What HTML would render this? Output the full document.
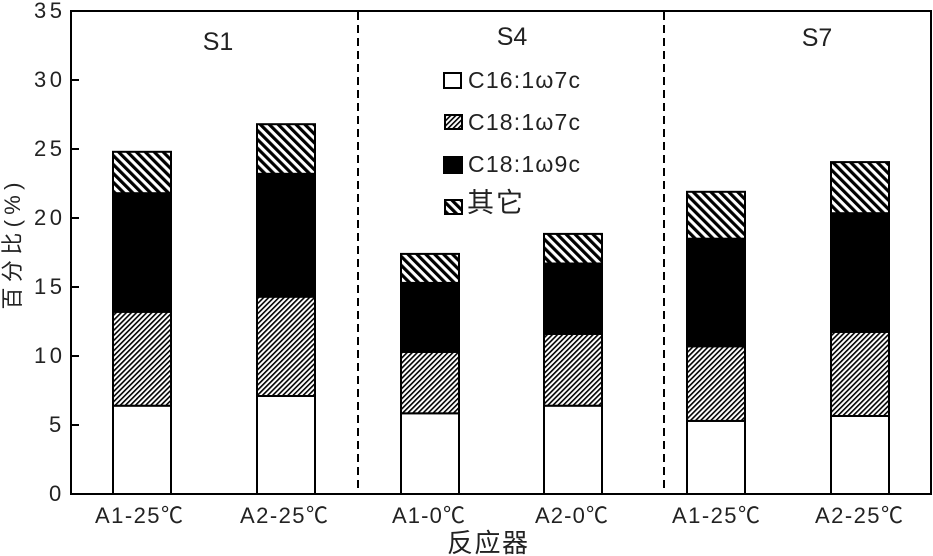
<!DOCTYPE html>
<html>
<head>
<meta charset="utf-8">
<style>
  html, body { margin: 0; padding: 0; background: #fff; }
  svg { display: block; }
  text { font-family: "Liberation Sans", "Noto Sans CJK SC", "WenQuanYi Zen Hei", sans-serif; fill: #222; }
</style>
</head>
<body>
<svg width="933" height="556" viewBox="0 0 933 556" xmlns="http://www.w3.org/2000/svg">
  <defs>
    <pattern id="fine" patternUnits="userSpaceOnUse" width="3.6" height="3.6" patternTransform="rotate(45)">
      <rect x="0" y="0" width="3.6" height="3.6" fill="#fff"/>
      <rect x="0" y="0" width="1.6" height="3.6" fill="#000"/>
    </pattern>
    <pattern id="thick" patternUnits="userSpaceOnUse" width="6.3" height="6.3" patternTransform="rotate(-45)">
      <rect x="0" y="0" width="6.3" height="6.3" fill="#fff"/>
      <rect x="0" y="0" width="3.2" height="6.3" fill="#000"/>
    </pattern>
  </defs>

  <rect x="0" y="0" width="933" height="556" fill="#fff"/>

  <!-- dashed separators -->
  <line x1="358" y1="12" x2="358" y2="493" stroke="#000" stroke-width="2" stroke-dasharray="8,5"/>
  <line x1="664" y1="12" x2="664" y2="493" stroke="#000" stroke-width="2" stroke-dasharray="8,5"/>

  <!-- bars -->
  <g stroke="#000" stroke-width="2">
    <rect x="113" y="405.7" width="58" height="88.3" fill="#fff"/>
    <rect x="113" y="311.8" width="58" height="93.9" fill="url(#fine)"/>
    <rect x="113" y="193.2" width="58" height="118.6" fill="#000"/>
    <rect x="113" y="151.8" width="58" height="41.4" fill="url(#thick)"/>

    <rect x="257" y="396.0" width="58" height="98.0" fill="#fff"/>
    <rect x="257" y="296.7" width="58" height="99.3" fill="url(#fine)"/>
    <rect x="257" y="173.8" width="58" height="122.9" fill="#000"/>
    <rect x="257" y="124.2" width="58" height="49.6" fill="url(#thick)"/>

    <rect x="401" y="413.3" width="58" height="80.7" fill="#fff"/>
    <rect x="401" y="351.9" width="58" height="61.4" fill="url(#fine)"/>
    <rect x="401" y="282.9" width="58" height="69.0" fill="#000"/>
    <rect x="401" y="253.9" width="58" height="29.0" fill="url(#thick)"/>

    <rect x="544" y="405.7" width="58" height="88.3" fill="#fff"/>
    <rect x="544" y="333.9" width="58" height="71.8" fill="url(#fine)"/>
    <rect x="544" y="263.5" width="58" height="70.4" fill="#000"/>
    <rect x="544" y="233.9" width="58" height="29.6" fill="url(#thick)"/>

    <rect x="687" y="420.9" width="58" height="73.1" fill="#fff"/>
    <rect x="687" y="346.3" width="58" height="74.6" fill="url(#fine)"/>
    <rect x="687" y="238.7" width="58" height="107.6" fill="#000"/>
    <rect x="687" y="191.8" width="58" height="46.9" fill="url(#thick)"/>

    <rect x="831" y="416.0" width="58" height="78.0" fill="#fff"/>
    <rect x="831" y="331.9" width="58" height="84.1" fill="url(#fine)"/>
    <rect x="831" y="213.2" width="58" height="118.7" fill="#000"/>
    <rect x="831" y="162.1" width="58" height="51.1" fill="url(#thick)"/>
  </g>

  <!-- frame -->
  <rect x="71" y="11" width="860" height="483" fill="none" stroke="#000" stroke-width="2"/>

  <!-- y ticks -->
  <g stroke="#000" stroke-width="2">
    <line x1="71" y1="425" x2="79" y2="425"/>
    <line x1="71" y1="356" x2="79" y2="356"/>
    <line x1="71" y1="287" x2="79" y2="287"/>
    <line x1="71" y1="218" x2="79" y2="218"/>
    <line x1="71" y1="149" x2="79" y2="149"/>
    <line x1="71" y1="80" x2="79" y2="80"/>
  </g>

  <!-- y tick labels -->
  <g font-size="22">
    <text x="49" y="501">0</text>
    <text x="49" y="432">5</text>
    <text x="34" y="363" textLength="28">10</text>
    <text x="34" y="294" textLength="28">15</text>
    <text x="34" y="225" textLength="28">20</text>
    <text x="34" y="156" textLength="28">25</text>
    <text x="34" y="87" textLength="28">30</text>
    <text x="34" y="18" textLength="28">35</text>
  </g>

  <!-- y axis title -->
  <text transform="translate(20,246) rotate(-90)" text-anchor="middle" font-size="22" textLength="127">百分比(%)</text>

  <!-- x labels -->
  <g font-size="22">
    <text x="95" y="523" textLength="88">A1-25℃</text>
    <text x="240" y="523" textLength="88">A2-25℃</text>
    <text x="392" y="523" textLength="73">A1-0℃</text>
    <text x="535" y="523" textLength="73">A2-0℃</text>
    <text x="672" y="523" textLength="88">A1-25℃</text>
    <text x="815" y="523" textLength="88">A2-25℃</text>
  </g>

  <!-- x axis title -->
  <text x="447" y="552" font-size="26" textLength="81">反应器</text>

  <!-- group labels -->
  <g font-size="25" text-anchor="middle">
    <text x="218" y="50">S1</text>
    <text x="512" y="45">S4</text>
    <text x="817" y="46">S7</text>
  </g>

  <!-- legend -->
  <g stroke="#000" stroke-width="2">
    <rect x="444" y="73" width="17" height="15" fill="#fff"/>
    <rect x="445" y="115" width="17" height="14" fill="url(#fine)"/>
    <rect x="444" y="157" width="18" height="16" fill="#000"/>
    <rect x="445" y="200" width="17" height="14" fill="url(#thick)"/>
  </g>
  <g font-size="23">
    <text x="468" y="88" textLength="112">C16:1ω7c</text>
    <text x="468" y="130" textLength="112">C18:1ω7c</text>
    <text x="468" y="172" textLength="112">C18:1ω9c</text>
    <text x="467" y="212" font-size="27" textLength="56">其它</text>
  </g>
</svg>
</body>
</html>
